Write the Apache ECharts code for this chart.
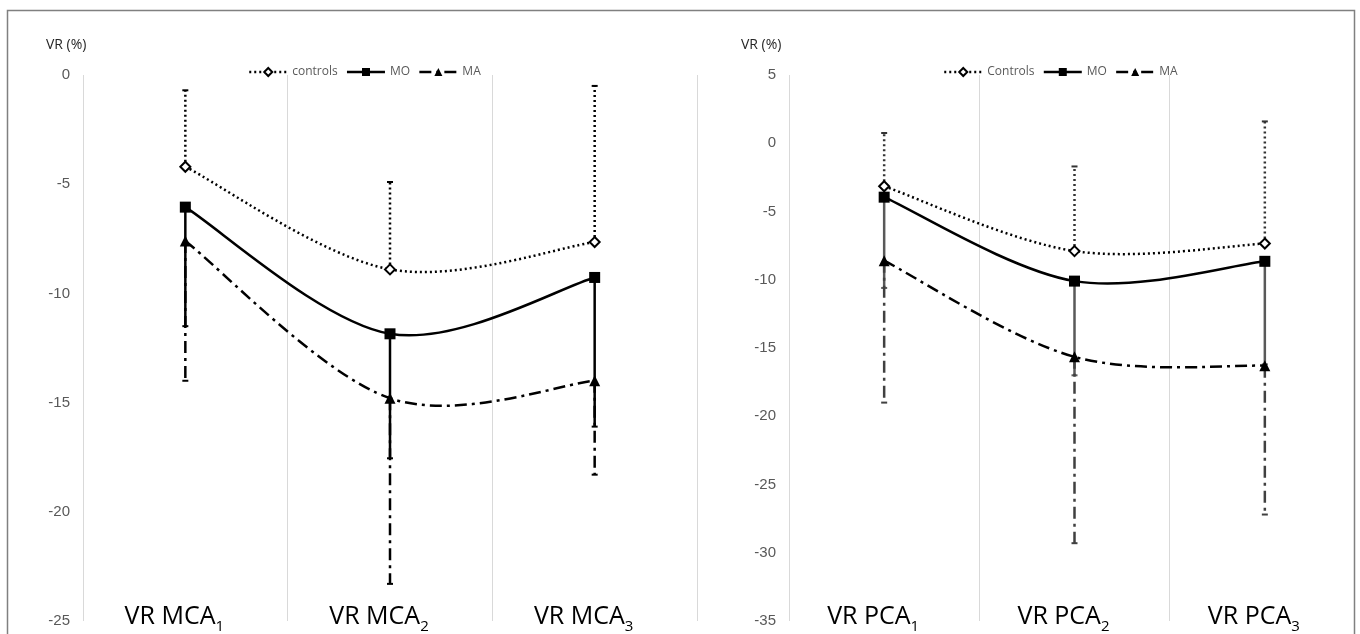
<!DOCTYPE html>
<html>
<head>
<meta charset="utf-8">
<script src="https://cdn.jsdelivr.net/npm/echarts@6/dist/echarts.min.js"></script>
<style>html,body{margin:0;padding:0;background:#fff;}#c{width:1360px;height:634px;}</style>
</head>
<body>
<div id="c"></div>
<script>
// ---- data ----
const catsL = ['VR MCA1', 'VR MCA2', 'VR MCA3'];
const catsR = ['VR PCA1', 'VR PCA2', 'VR PCA3'];
const legendL = ['controls', 'MO', 'MA'];
const legendR = ['Controls', 'MO', 'MA'];

const ctrlL = [-4.2, -8.9, -7.65];
const ctrlLTop = [-0.7, -4.9, -0.5];
const moL = [-6.05, -11.85, -9.27];
const moLLow = [-11.5, -17.55, -16.1];
const maL = [-7.6, -14.8, -14.0];
const maLLow = [-14.0, -23.3, -18.3];

const ctrlR = [-3.15, -7.9, -7.35];
const ctrlRTop = [0.75, -1.7, 1.6];
const moR = [-3.95, -10.1, -8.65];
const moRLow = [-10.6, -17.0, -16.2];
const maR = [-8.6, -15.65, -16.3];
const maRLow = [-19.0, -29.3, -27.2];

const yMinL = -25, yMaxL = 0, yMinR = -35, yMaxR = 5, yStep = 5;
const yTitle = 'VR (%)';

// ---- styles ----
const DOT = [2, 3];
const DASHDOT = [12, 5, 3, 5];
const catFont = 'Open Sans';
const tickFont = 'Liberation Sans';

function errSeries(name, gi, mids, ends, color, dash, width) {
  return {
    name: name, type: 'custom', xAxisIndex: gi, yAxisIndex: gi, silent: true, z: 1,
    encode: { x: 0, y: [1, 2] },
    data: mids.map((m, i) => [i, m, ends[i]]),
    renderItem: function (params, api) {
      const p0 = api.coord([api.value(0), api.value(1)]);
      const p1 = api.coord([api.value(0), api.value(2)]);
      return {
        type: 'group', children: [
          { type: 'line', shape: { x1: p0[0], y1: p0[1], x2: p1[0], y2: p1[1] },
            style: { stroke: color, lineWidth: width, lineDash: dash, fill: null } },
          { type: 'line', shape: { x1: p1[0] - 3, y1: p1[1], x2: p1[0] + 3, y2: p1[1] },
            style: { stroke: color, lineWidth: 2, fill: null } }
        ]
      };
    }
  };
}

// smoothed curve (spreadsheet-style Bezier) through the series points
function curveSeries(name, gi, vals, dash) {
  return {
    name: name, type: 'custom', xAxisIndex: gi, yAxisIndex: gi, silent: true, z: 2,
    encode: { x: 0, y: 1 },
    data: vals.map((v, i) => [i, v]),
    renderItem: function (params, api) {
      if (params.dataIndex !== 0) return null;
      const P = vals.map((v, i) => api.coord([i, v]));
      const n = P.length;
      const tan = P.map((p, i) => {
        const a = P[Math.max(0, i - 1)], b = P[Math.min(n - 1, i + 1)];
        return [(b[0] - a[0]) / 6, (b[1] - a[1]) / 6];
      });
      let d = 'M' + P[0][0] + ' ' + P[0][1];
      for (let i = 0; i < n - 1; i++) {
        const c1 = [P[i][0] + tan[i][0], P[i][1] + tan[i][1]];
        const c2 = [P[i + 1][0] - tan[i + 1][0], P[i + 1][1] - tan[i + 1][1]];
        d += ' C' + c1[0] + ' ' + c1[1] + ' ' + c2[0] + ' ' + c2[1] + ' ' + P[i + 1][0] + ' ' + P[i + 1][1];
      }
      return { type: 'path', shape: { pathData: d },
        style: { stroke: '#000', lineWidth: 2.5, lineDash: dash, fill: null } };
    }
  };
}

function lineSeries(name, gi, data, kind) {
  const base = { name: name, type: 'line', xAxisIndex: gi, yAxisIndex: gi, data: data, z: 3 };
  if (kind === 'ctrl') {
    return Object.assign(base, { symbol: 'emptyDiamond', symbolSize: 10,
      lineStyle: { color: '#000', width: 2.5, type: DOT, opacity: 0 },
      itemStyle: { color: '#000', borderColor: '#000', borderWidth: 1.5 } });
  } else if (kind === 'mo') {
    return Object.assign(base, { symbol: 'rect', symbolSize: 11,
      lineStyle: { color: '#000', width: 2.5, type: 'solid', opacity: 0 },
      itemStyle: { color: '#000' } });
  }
  return Object.assign(base, { symbol: 'triangle', symbolSize: 11,
    lineStyle: { color: '#000', width: 2.5, type: DASHDOT, opacity: 0 },
    itemStyle: { color: '#000' } });
}

function catLabel(v) {
  return '{b|' + v.slice(0, -1) + '}{s|' + v.slice(-1) + '}';
}

function xAxisCfg(gi, cats) {
  return {
    type: 'category', gridIndex: gi, data: cats, boundaryGap: true,
    axisLine: { show: false }, axisTick: { show: false },
    splitLine: { show: true, lineStyle: { color: '#d9d9d9', width: 1 } },
    axisLabel: {
      formatter: catLabel, margin: -4, verticalAlign: 'middle', interval: 0,
      padding: [0, 22, 0, 0],
      rich: {
        b: { fontSize: 25, fontFamily: catFont, color: '#000', lineHeight: 34 },
        s: { fontSize: 15, fontFamily: catFont, color: '#000', lineHeight: 15, verticalAlign: 'bottom' }
      }
    }
  };
}

function yAxisCfg(gi, mn, mx) {
  return {
    type: 'value', gridIndex: gi, min: mn, max: mx, interval: yStep,
    axisLine: { show: false }, axisTick: { show: false }, splitLine: { show: false },
    axisLabel: { color: '#595959', fontSize: 15, fontFamily: tickFont, margin: 13 }
  };
}

const legendStyle = { fontSize: 12, color: '#595959', fontFamily: catFont };
function legendItems(names, dashes) {
  return names.map((nm, i) => ({ name: nm, lineStyle: { opacity: 1, type: dashes[i], width: 2.5, color: '#000' } }));
}
const legendDashes = [DOT, 'solid', DASHDOT];

const option = {
  animation: false,
  backgroundColor: '#fff',
  grid: [
    { left: 83, right: 1360 - 697, top: 75, bottom: 11 },
    { left: 789, right: -14, top: 75, bottom: 11 }
  ],
  xAxis: [xAxisCfg(0, catsL), xAxisCfg(1, catsR)],
  yAxis: [yAxisCfg(0, yMinL, yMaxL), yAxisCfg(1, yMinR, yMaxR)],
  legend: [
    { data: legendItems(legendL, legendDashes), left: 243, top: 61, itemWidth: 38, itemHeight: 10, itemGap: 8, textStyle: legendStyle },
    { data: legendItems(legendR, legendDashes), left: 938, top: 61, itemWidth: 38, itemHeight: 10, itemGap: 8, textStyle: legendStyle }
  ],
  graphic: [
    { type: 'rect', shape: { x: 7.5, y: 10.5, width: 1347, height: 640 }, style: { fill: 'none', stroke: '#808080', lineWidth: 1.5 }, silent: true },
    { type: 'text', left: 46, top: 38, style: { text: yTitle, fontSize: 14, fontFamily: catFont, fill: '#262626' } },
    { type: 'text', left: 741, top: 38, style: { text: yTitle, fontSize: 14, fontFamily: catFont, fill: '#262626' } }
  ],
  series: [
    errSeries('eL1', 0, ctrlL, ctrlLTop, '#000', DOT, 2.5),
    errSeries('eL2', 0, moL, moLLow, '#000', null, 2.5),
    errSeries('eL3', 0, maL, maLLow, '#000', DASHDOT, 2.5),
    errSeries('eR1', 1, ctrlR, ctrlRTop, '#333', DOT, 2.5),
    errSeries('eR2', 1, moR, moRLow, '#595959', null, 2.5),
    errSeries('eR3', 1, maR, maRLow, '#404040', DASHDOT, 2.5),
    curveSeries('cL1', 0, ctrlL, DOT),
    curveSeries('cL2', 0, moL, null),
    curveSeries('cL3', 0, maL, DASHDOT),
    curveSeries('cR1', 1, ctrlR, DOT),
    curveSeries('cR2', 1, moR, null),
    curveSeries('cR3', 1, maR, DASHDOT),
    lineSeries(legendL[0], 0, ctrlL, 'ctrl'),
    lineSeries(legendL[1], 0, moL, 'mo'),
    lineSeries(legendL[2], 0, maL, 'ma'),
    lineSeries(legendR[0], 1, ctrlR, 'ctrl'),
    lineSeries(legendR[1], 1, moR, 'mo'),
    lineSeries(legendR[2], 1, maR, 'ma')
  ]
};

const chart = echarts.init(document.getElementById('c'), null, { renderer: 'canvas' });
chart.setOption(option);
</script>
</body>
</html>
